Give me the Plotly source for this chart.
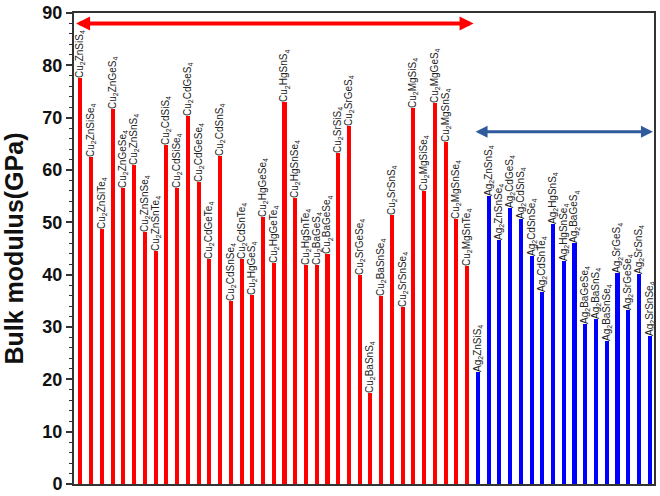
import re

import plotly.graph_objects as go

# Cu-based compounds (red) and Ag-based compounds (blue)
cu_names = [
    "Cu2ZnSiS4", "Cu2ZnSiSe4", "Cu2ZnSiTe4", "Cu2ZnGeS4", "Cu2ZnGeSe4",
    "Cu2ZnSnS4", "Cu2ZnSnSe4", "Cu2ZnSnTe4", "Cu2CdSiS4", "Cu2CdSiSe4",
    "Cu2CdGeS4", "Cu2CdGeSe4", "Cu2CdGeTe4", "Cu2CdSnS4", "Cu2CdSnSe4",
    "Cu2CdSnTe4", "Cu2HgGeS4", "Cu2HgGeSe4", "Cu2HgGeTe4", "Cu2HgSnS4",
    "Cu2HgSnSe4", "Cu2HgSnTe4", "Cu2BaGeS4", "Cu2BaGeSe4", "Cu2SrSiS4",
    "Cu2SrGeS4", "Cu2SrGeSe4", "Cu2BaSnS4", "Cu2BaSnSe4", "Cu2SrSnS4",
    "Cu2SrSnSe4", "Cu2MgSiS4", "Cu2MgSiSe4", "Cu2MgGeS4", "Cu2MgSnS4",
    "Cu2MgSnSe4", "Cu2MgSnTe4",
]
cu_bulk = [
    77.5, 62.4, 48.7, 71.7, 56.6, 61.0, 48.1, 44.5, 64.8, 56.5,
    70.3, 57.7, 42.9, 62.6, 35.0, 42.9, 36.1, 51.0, 42.3, 73.0,
    54.6, 41.8, 41.8, 43.9, 63.2, 68.5, 39.9, 17.3, 36.0, 51.4,
    33.9, 71.8, 56.0, 72.8, 65.4, 50.6, 41.7,
]

ag_names = [
    "Ag2ZnSiS4", "Ag2ZnSnS4", "Ag2ZnSnSe4", "Ag2CdGeS4", "Ag2CdSnS4",
    "Ag2CdSnSe4", "Ag2CdSnTe4", "Ag2HgSnS4", "Ag2HgSnSe4", "Ag2BaGeS4",
    "Ag2BaGeSe4", "Ag2BaSnS4", "Ag2BaSnSe4", "Ag2SrGeS4", "Ag2SrGeSe4",
    "Ag2SrSnS4", "Ag2SrSnSe4",
]
ag_bulk = [
    21.4, 55.0, 46.6, 52.8, 50.6, 43.6, 36.7, 49.6, 42.6, 46.1,
    30.6, 31.6, 27.4, 40.3, 33.3, 40.1, 28.2,
]

y_ticks = [0, 10, 20, 30, 40, 50, 60, 70, 80, 90]


def formula(name):
    # digits become subscripts: Cu2ZnSiS4 -> Cu<sub>2</sub>ZnSiS<sub>4</sub>
    return re.sub(r"(\d+)", r"<sub>\1</sub>", name)


n_cu = len(cu_names)
n_ag = len(ag_names)
cu_x = list(range(n_cu))
ag_x = list(range(n_cu, n_cu + n_ag))

x_lo = -0.6
x_hi = n_cu + n_ag - 0.6
split = n_cu - 0.4

label_font = dict(family="Liberation Sans, Arial", size=10, color="#222222")

fig = go.Figure()

fig.add_trace(
    go.Bar(
        x=cu_x,
        y=cu_bulk,
        width=0.38,
        marker=dict(color="#ff0000", line=dict(width=0)),
        text=[formula(n) for n in cu_names],
        textposition="outside",
        textangle=-90,
        textfont=label_font,
        constraintext="none",
        cliponaxis=False,
        showlegend=False,
    )
)

fig.add_trace(
    go.Bar(
        x=ag_x,
        y=ag_bulk,
        width=0.38,
        marker=dict(color="#0000ff", line=dict(width=0)),
        text=[formula(n) for n in ag_names],
        textposition="outside",
        textangle=-90,
        textfont=label_font,
        constraintext="none",
        cliponaxis=False,
        showlegend=False,
    )
)

# double-headed arrows marking the two groups
fig.add_annotation(
    x=split, y=88, ax=x_lo + 0.05, ay=88,
    xref="x", yref="y", axref="x", ayref="y",
    text="", showarrow=True, arrowside="end+start",
    arrowhead=2, arrowsize=0.7, arrowwidth=4, arrowcolor="#ff0000",
)
fig.add_annotation(
    x=x_hi - 0.1, y=67.3, ax=split + 0.05, ay=67.3,
    xref="x", yref="y", axref="x", ayref="y",
    text="", showarrow=True, arrowside="end+start",
    arrowhead=2, arrowsize=0.8, arrowwidth=3, arrowcolor="#2f5b9c",
)

# y axis title as an annotation so it sits at the far left edge
fig.add_annotation(
    x=0, y=0.5, xref="paper", yref="paper",
    xanchor="center", yanchor="middle", xshift=-61,
    text="<b>Bulk modulus(GPa)</b>", textangle=-90, showarrow=False,
    font=dict(family="Liberation Sans, Arial", size=25, color="#111111"),
)

fig.update_xaxes(
    range=[x_lo, x_hi],
    showticklabels=False,
    ticks="",
    showgrid=False,
    zeroline=False,
    showline=True,
    linecolor="#333333",
    linewidth=2,
    mirror=True,
    automargin=False,
)
fig.update_yaxes(
    range=[0, 90],
    tickvals=y_ticks,
    ticks="outside",
    ticklen=6,
    tickwidth=1.5,
    tickcolor="#333333",
    minor=dict(dtick=2, ticks="outside", ticklen=3, tickwidth=1, tickcolor="#333333"),
    tickfont=dict(family="Liberation Sans, Arial", size=18, color="#111111", weight="bold"),
    showgrid=False,
    zeroline=False,
    showline=True,
    linecolor="#333333",
    linewidth=2,
    mirror=True,
    automargin=False,
)

fig.update_layout(
    width=660,
    height=496,
    plot_bgcolor="white",
    paper_bgcolor="white",
    bargap=0,
    margin=dict(l=74, r=6, t=13, b=12),
)

# drop the default page margin so the figure fills the window
fig.write_html(
    "out.html",
    config={"displayModeBar": False},
    post_script="document.body.style.margin = '0';",
)
